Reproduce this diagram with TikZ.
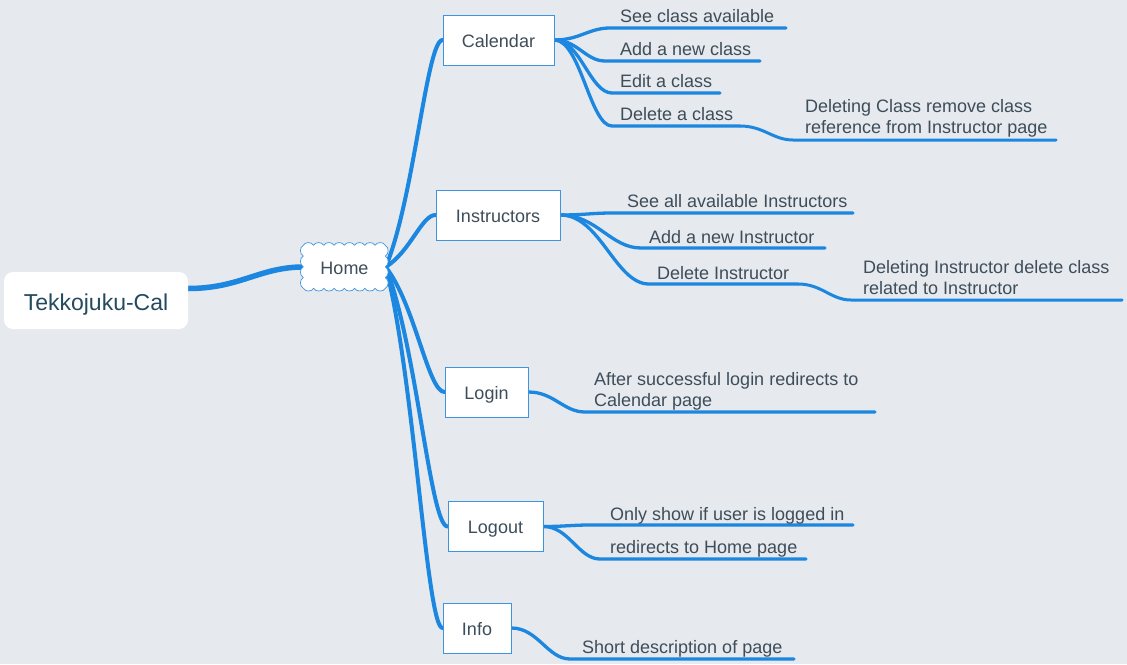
\documentclass[tikz,border=0pt]{standalone}
\usepackage{fontspec}
\setmainfont{Liberation Sans}
\usetikzlibrary{calc}
\definecolor{bgc}{HTML}{E6E9ED}
\definecolor{ln}{HTML}{1C87E0}
\definecolor{bd}{HTML}{3D95E2}
\definecolor{tx}{HTML}{3E4D5A}
\definecolor{rt}{HTML}{234A5E}
\pgfdeclarelayer{paper}
\pgfdeclarelayer{edges}
\pgfdeclarelayer{shapes}
\pgfsetlayers{paper,edges,shapes,main}
\begin{document}
\begin{tikzpicture}[x=1pt,y=-1pt,
  every node/.style={font=\fontsize{18}{20.7}\selectfont, text=tx},
  box/.style={draw=bd, line width=0.9pt, fill=white, minimum height=50pt, inner sep=0pt, text height=14pt, text depth=0pt},
  leaf/.style={inner sep=0pt, anchor=base west, align=left},
  conn/.style={draw=ln, line cap=round, line join=round},
  w0/.style={line width=5.5pt},
  w1/.style={line width=4pt},
  w2/.style={line width=3.3pt},
  w3/.style={line width=3pt},
  hb/.style={to path={let \p1=(\tikztostart), \p2=(\tikztotarget) in .. controls ({\x1+0.5*(\x2-\x1)},{\y1+0.3*(\y2-\y1)}) and ({\x1+0.72*(\x2-\x1)},{\y2}) .. (\tikztotarget)}},
  sb/.style={to path={let \p1=(\tikztostart), \p2=(\tikztotarget) in .. controls ({\x1+0.45*(\x2-\x1)},{\y1}) and ({\x1+0.62*(\x2-\x1)},{\y2}) .. (\tikztotarget)}},
  cloudtext/.style={minimum width=82pt, minimum height=43pt, inner sep=0pt, text height=14pt, text depth=0pt},
  puffline/.style={draw=bd, fill=white, line width=0.7pt, line join=round},
]
\begin{pgfonlayer}{paper}
\fill[bgc] (0,0) rectangle (1127,664);
\end{pgfonlayer}
\useasboundingbox (0,0) rectangle (1127,664);

% main nodes
\node[fill=white, rounded corners=9pt, minimum width=184pt, minimum height=57pt, inner sep=0pt,
      text height=20pt, text depth=0pt,
      font=\fontsize{23}{26}\selectfont, text=rt] (root) at (96,300.5) {Tekkojuku-Cal};
\node[cloudtext] (home) at (344.5,267) {Home};
\begin{pgfonlayer}{shapes}
\path[puffline] (home.north west)
  \foreach \i in {1,...,8} { to[bend left=65] ++(10.25,0) }
  \foreach \i in {1,...,4} { to[bend left=65] ++(0,10.75) }
  \foreach \i in {1,...,8} { to[bend left=65] ++(-10.25,0) }
  \foreach \i in {1,...,4} { to[bend left=65] ++(0,-10.75) }
  -- cycle;
\end{pgfonlayer}
\node[box, minimum width=111pt] (cal) at (498.5,40) {Calendar};
\node[box, minimum width=124pt] (ins) at (498,215) {Instructors};
\node[box, minimum width=83pt] (login) at (486.5,392) {Login};
\node[box, minimum width=95pt] (logout) at (495.5,526.5) {Logout};
\node[box, minimum width=68pt] (info) at (477,628) {Info};

% leaf texts
\node[leaf] (c1) at (620,22.7) {See class available};
\node[leaf] (c2) at (620,55.5) {Add a new class};
\node[leaf] (c3) at (620,87.5) {Edit a class};
\node[leaf] (c4) at (620,120) {Delete a class};
\node[leaf] (c5) at (805,133.5) {Deleting Class remove class\\reference from Instructor page};
\node[leaf] (i1) at (627,207) {See all available Instructors};
\node[leaf] (i2) at (649,243) {Add a new Instructor};
\node[leaf] (i3) at (657,279) {Delete Instructor};
\node[leaf] (i4) at (863,294.5) {Deleting Instructor delete class\\related to Instructor};
\node[leaf] (g1) at (594,406.5) {After successful login redirects to\\Calendar page};
\node[leaf] (o1) at (610,520) {Only show if user is logged in};
\node[leaf] (o2) at (610,553.3) {redirects to Home page};
\node[leaf] (f1) at (582,653.3) {Short description of page};

% underline coordinates
\coordinate (c1a) at (610,28);  \coordinate (c1b) at (786,28);
\coordinate (c2a) at (605,61);  \coordinate (c2b) at (760,61);
\coordinate (c3a) at (612,93);  \coordinate (c3b) at (720,93);
\coordinate (c4a) at (612,126); \coordinate (c4b) at (740,126);
\coordinate (c5a) at (793,140); \coordinate (c5b) at (1056,140);
\coordinate (i1a) at (612,213); \coordinate (i1b) at (853,213);
\coordinate (i2a) at (641,248); \coordinate (i2b) at (825,248);
\coordinate (i3a) at (649,284); \coordinate (i3b) at (798,284);
\coordinate (i4a) at (851,300); \coordinate (i4b) at (1122,300);
\coordinate (g1a) at (585,412); \coordinate (g1b) at (875,412);
\coordinate (o1a) at (590,525); \coordinate (o1b) at (853,525);
\coordinate (o2a) at (600,559); \coordinate (o2b) at (806,559);
\coordinate (f1a) at (570,659); \coordinate (f1b) at (794,659);

\begin{pgfonlayer}{edges}
\draw[conn,w0] ($(root.east)+(0,-12)$) to[sb] (home.west);
\foreach \t in {cal,ins,login,logout,info}
  \draw[conn,w1] (home.east) to[hb] (\t.west);
\draw[conn,w2] (cal.east) to[sb] (c1a) -- (c1b);
\draw[conn,w2] (cal.east) to[sb] (c2a) -- (c2b);
\draw[conn,w2] (cal.east) to[sb] (c3a) -- (c3b);
\draw[conn,w2] (cal.east) to[sb] (c4a) -- (c4b);
\draw[conn,w3] (c4b) to[sb] (c5a) -- (c5b);
\draw[conn,w2] (ins.east) to[sb] (i1a) -- (i1b);
\draw[conn,w2] (ins.east) to[sb] (i2a) -- (i2b);
\draw[conn,w2] (ins.east) to[sb] (i3a) -- (i3b);
\draw[conn,w3] (i3b) to[sb] (i4a) -- (i4b);
\draw[conn,w2] (login.east) to[sb] (g1a) -- (g1b);
\draw[conn,w2] (logout.east) to[sb] (o1a) -- (o1b);
\draw[conn,w2] (logout.east) to[sb] (o2a) -- (o2b);
\draw[conn,w2] (info.east) to[sb] (f1a) -- (f1b);
\end{pgfonlayer}
\end{tikzpicture}
\end{document}
